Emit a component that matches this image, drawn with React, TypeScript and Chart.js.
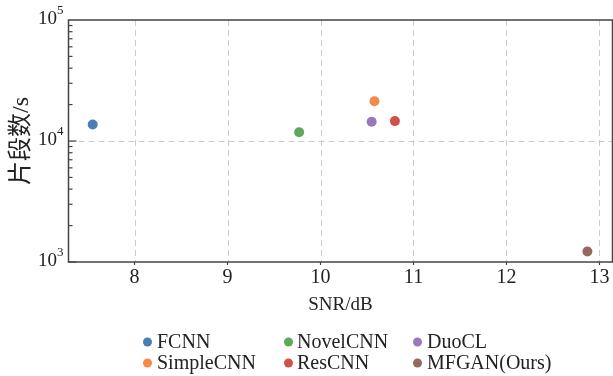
import { useEffect, useRef } from 'react';
import { Chart, registerables } from 'chart.js';

Chart.register(...registerables);

// ---- data ----
const methods = ['FCNN', 'SimpleCNN', 'NovelCNN', 'ResCNN', 'DuoCL', 'MFGAN(Ours)'];
const snrValues = [7.55, 10.58, 9.77, 10.8, 10.55, 12.87];
const segmentValues = [13700, 21300, 11800, 14600, 14400, 1220];
const pointColors = [
  'rgb(74,126,181)',
  'rgb(244,138,72)',
  'rgb(94,167,91)',
  'rgb(207,82,74)',
  'rgb(150,122,187)',
  'rgb(150,105,96)',
];
const xTickValues = [8, 9, 10, 11, 12, 13];
const yExponents = [3, 4, 5];
const xTitle = 'SNR/dB';
const yTitle = '片段数/s';

const SERIF = '"Liberation Serif", "Times New Roman", "Noto Sans CJK SC", serif';
const AXIS_COLOR = '#444';
const GRID_COLOR = '#cccccc';
const TEXT_COLOR = '#222';

const decorPlugin = {
  id: 'decor',
  beforeDatasetsDraw(chart: any) {
    const { ctx, chartArea: a, scales } = chart;
    const xs = scales.x;
    const ys = scales.y;
    ctx.save();
    ctx.strokeStyle = GRID_COLOR;
    ctx.lineWidth = 1;
    ctx.setLineDash([6, 4]);
    xTickValues.forEach((v) => {
      const px = Math.round(xs.getPixelForValue(v)) + 0.5;
      if (px <= a.left + 1 || px >= a.right - 1) return;
      ctx.beginPath();
      ctx.moveTo(px, a.top);
      ctx.lineTo(px, a.bottom);
      ctx.stroke();
    });
    yExponents.forEach((e) => {
      const py = Math.round(ys.getPixelForValue(Math.pow(10, e))) + 0.5;
      if (py <= a.top + 1 || py >= a.bottom - 1) return;
      ctx.beginPath();
      ctx.moveTo(a.left, py);
      ctx.lineTo(a.right, py);
      ctx.stroke();
    });
    ctx.restore();
  },
  afterDraw(chart: any) {
    const { ctx, chartArea: a, scales } = chart;
    const xs = scales.x;
    const ys = scales.y;
    ctx.save();
    // frame
    ctx.strokeStyle = AXIS_COLOR;
    ctx.lineWidth = 1.5;
    ctx.setLineDash([]);
    ctx.strokeRect(a.left, a.top, a.right - a.left, a.bottom - a.top);
    // y ticks (inward), major + minor
    ctx.lineWidth = 1.2;
    for (let e = yExponents[0]; e < yExponents[yExponents.length - 1]; e++) {
      for (let m = 1; m <= 9; m++) {
        const v = m * Math.pow(10, e);
        const py = ys.getPixelForValue(v);
        const len = m === 1 ? 8 : 4;
        ctx.beginPath();
        ctx.moveTo(a.left, py);
        ctx.lineTo(a.left + len, py);
        ctx.stroke();
      }
    }
    // x ticks (outward) + labels
    ctx.fillStyle = TEXT_COLOR;
    ctx.font = '20px ' + SERIF;
    ctx.textAlign = 'center';
    ctx.textBaseline = 'alphabetic';
    xTickValues.forEach((v) => {
      const px = xs.getPixelForValue(v);
      ctx.beginPath();
      ctx.moveTo(px, a.bottom);
      ctx.lineTo(px, a.bottom + 3);
      ctx.stroke();
      ctx.fillText(String(v), px, a.bottom + 21);
    });
    // y tick labels 10^e
    yExponents.forEach((e) => {
      const py = ys.getPixelForValue(Math.pow(10, e));
      const rightEdge = a.left - 11.5;
      ctx.font = '19px ' + SERIF;
      ctx.textAlign = 'right';
      ctx.textBaseline = 'middle';
      ctx.fillText('10', rightEdge, py - 1);
      ctx.font = '13px ' + SERIF;
      ctx.textAlign = 'left';
      ctx.textBaseline = 'alphabetic';
      ctx.fillText(String(e), rightEdge, py - 6);
    });
    // legend: 3 columns, filled column-first
    const colCircle = [147.5, 288.5, 417.5];
    const colText = [157, 297, 427];
    const rowY = [342, 363];
    ctx.font = '20px ' + SERIF;
    ctx.textAlign = 'left';
    ctx.textBaseline = 'middle';
    methods.forEach((name, i) => {
      const col = Math.floor(i / 2);
      const row = i % 2;
      ctx.fillStyle = pointColors[i];
      ctx.beginPath();
      ctx.arc(colCircle[col], rowY[row], 4.5, 0, Math.PI * 2);
      ctx.fill();
      ctx.fillStyle = TEXT_COLOR;
      ctx.fillText(name, colText[col], rowY[row] + 1);
    });
    ctx.restore();
  },
};

export default function App() {
  const canvasRef = useRef<HTMLCanvasElement | null>(null);

  useEffect(() => {
    document.body.style.margin = '0';
    const canvas = canvasRef.current;
    if (!canvas) return;
    const chart = new Chart(canvas, {
      type: 'scatter',
      data: {
        datasets: methods.map((name, i) => ({
          label: name,
          data: [{ x: snrValues[i], y: segmentValues[i] }],
          backgroundColor: pointColors[i],
          borderColor: pointColors[i],
          pointRadius: 5,
          pointBorderWidth: 0,
        })),
      },
      options: {
        animation: false,
        responsive: false,
        devicePixelRatio: 1,
        layout: { autoPadding: false, padding: { left: 0, right: 0.5, top: 20, bottom: 58 } },
        plugins: {
          legend: { display: false },
          tooltip: { enabled: false },
        },
        scales: {
          x: {
            type: 'linear',
            min: 7.29,
            max: 13.14,
            afterBuildTicks: (s: any) => {
              s.ticks = xTickValues.map((v) => ({ value: v }));
            },
            afterFit: (s: any) => {
              s.height = 56;
            },
            grid: { display: false, drawTicks: false },
            border: { display: false },
            ticks: { display: false },
            title: {
              display: true,
              text: xTitle,
              color: TEXT_COLOR,
              font: { family: SERIF, size: 19 },
              padding: { top: 0, bottom: 2 },
            },
          },
          y: {
            type: 'logarithmic',
            min: Math.pow(10, yExponents[0]),
            max: Math.pow(10, yExponents[yExponents.length - 1]),
            afterFit: (s: any) => {
              s.width = 68.5;
            },
            grid: { display: false, drawTicks: false },
            border: { display: false },
            ticks: { display: false },
            title: {
              display: true,
              text: yTitle,
              color: TEXT_COLOR,
              font: { family: SERIF, size: 24 },
              padding: { top: 7, bottom: 0 },
            },
          },
        },
      },
      plugins: [decorPlugin],
    });
    return () => chart.destroy();
  }, []);

  return (
    <div style={{ width: 613, height: 376, position: 'relative' }}>
      <canvas ref={canvasRef} width={613} height={376} style={{ display: 'block' }} />
    </div>
  );
}
